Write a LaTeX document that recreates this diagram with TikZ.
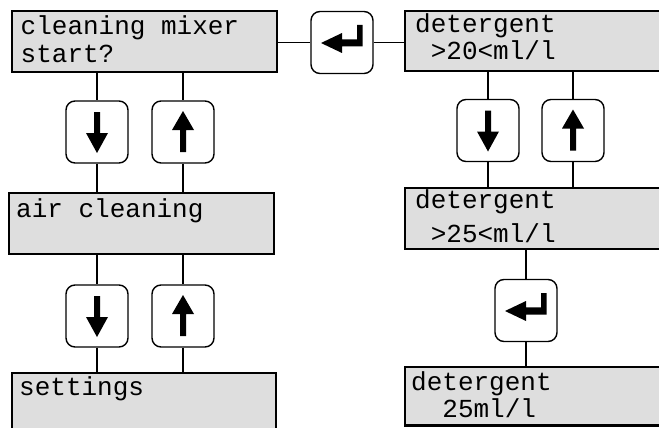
\documentclass[tikz,border=0pt]{standalone}
\usepackage{fontspec}
\newfontfamily\lcd{Liberation Mono}
\definecolor{lcdgray}{HTML}{DEDEDE}
\tikzset{
  lcdbox/.style={draw, fill=lcdgray, line width=2.2pt, rectangle, inner sep=0pt},
  keybox/.style={draw, fill=white, line width=1.4pt, rectangle, rounded corners=9pt, minimum width=62pt, minimum height=62pt, inner sep=0pt},
  lcdtext/.style={anchor=base west, inner sep=0pt, font=\lcd\fontsize{26}{26}\selectfont},
  wire/.style={line width=1.8pt},
  downsym/.pic={\fill (-3,-20) -- (3,-20) -- (3,1) -- (11,1) -- (0,21) -- (-11,1) -- (-3,1) -- cycle;},
  upsym/.pic={\fill (0,-21) -- (11,-2) -- (3,-2) -- (3,20) -- (-3,20) -- (-3,-2) -- (-11,-2) -- cycle;},
  entersym/.pic={\fill (-21,0.5) -- (0,-9.5) -- (0,-3.2) -- (15,-3.2) -- (15,-17.5) -- (20.5,-17.5) -- (20.5,4) -- (0,4) -- (0,10.5) -- cycle;}
}
\begin{document}
\begin{tikzpicture}[x=1pt, y=-1pt]
\clip (0,0) rectangle (659,428);
\fill[white] (0,0) rectangle (659,428);
% LCD boxes
\node[lcdbox, minimum width=265pt, minimum height=61pt] (b1) at (144.5,41.5) {};
\node[lcdbox, minimum width=275pt, minimum height=60pt] (b2) at (542.5,41) {};
\node[lcdbox, minimum width=275pt, minimum height=61pt] (b3) at (542.5,218.5) {};
\node[lcdbox, minimum width=275pt, minimum height=58.5pt] (b4) at (542.5,396.25) {};
\node[lcdbox, minimum width=265pt, minimum height=61pt] (b5) at (141.5,223.5) {};
\node[lcdbox, minimum width=264pt, minimum height=67pt] (b6) at (144,406.5) {};
% keys
\node[keybox] (ke1) at (342,42.5) {};
\node[keybox] (kd1) at (97,132) {};
\node[keybox] (ku1) at (183,132) {};
\node[keybox] (kd2) at (97,316) {};
\node[keybox] (ku2) at (183,316) {};
\node[keybox] (kd3) at (488,130.5) {};
\node[keybox] (ku3) at (573,130.5) {};
\node[keybox] (ke2) at (526,310.5) {};
% symbols
\pic at (ke1.center) {entersym};
\pic at (ke2.center) {entersym};
\pic at (kd1.center) {downsym};
\pic at (kd2.center) {downsym};
\pic at (kd3.center) {downsym};
\pic at (ku1.center) {upsym};
\pic at (ku2.center) {upsym};
\pic at (ku3.center) {upsym};
% connectors
\draw[wire] (ke1.west -| b1.east) -- (ke1.west);
\draw[wire] (ke1.east) -- (ke1.east -| b2.west);
\draw[wire] (b1.south -| kd1.north) -- (kd1.north);
\draw[wire] (kd1.south) -- (b5.north -| kd1.south);
\draw[wire] (b1.south -| ku1.north) -- (ku1.north);
\draw[wire] (ku1.south) -- (b5.north -| ku1.south);
\draw[wire] (b5.south -| kd2.north) -- (kd2.north);
\draw[wire] (kd2.south) -- (b6.north -| kd2.south);
\draw[wire] (b5.south -| ku2.north) -- (ku2.north);
\draw[wire] (ku2.south) -- (b6.north -| ku2.south);
\draw[wire] (b2.south -| kd3.north) -- (kd3.north);
\draw[wire] (kd3.south) -- (b3.north -| kd3.south);
\draw[wire] (b2.south -| ku3.north) -- (ku3.north);
\draw[wire] (ku3.south) -- (b3.north -| ku3.south);
\draw[wire] (b3.south -| ke2.north) -- (ke2.north);
\draw[wire] (ke2.south) -- (b4.north -| ke2.south);
% texts
\node[lcdtext] (t1a) at (20.5,35) {cleaning mixer};
\node[lcdtext] (t1b) at (20.5,63) {start?};
\node[lcdtext] (t2a) at (415,33) {detergent};
\node[lcdtext] (t2b) at (415,60) {\phantom{0}>20<ml/l};
\node[lcdtext] (t3a) at (415,208) {detergent};
\node[lcdtext] (t3b) at (415,242) {\phantom{0}>25<ml/l};
\node[lcdtext] (t4a) at (411,390) {detergent};
\node[lcdtext] (t4b) at (411,417) {\phantom{00}25ml/l};
\node[lcdtext] (t5) at (16,217) {air cleaning};
\node[lcdtext] (t6) at (19,395) {settings};
\end{tikzpicture}
\end{document}
